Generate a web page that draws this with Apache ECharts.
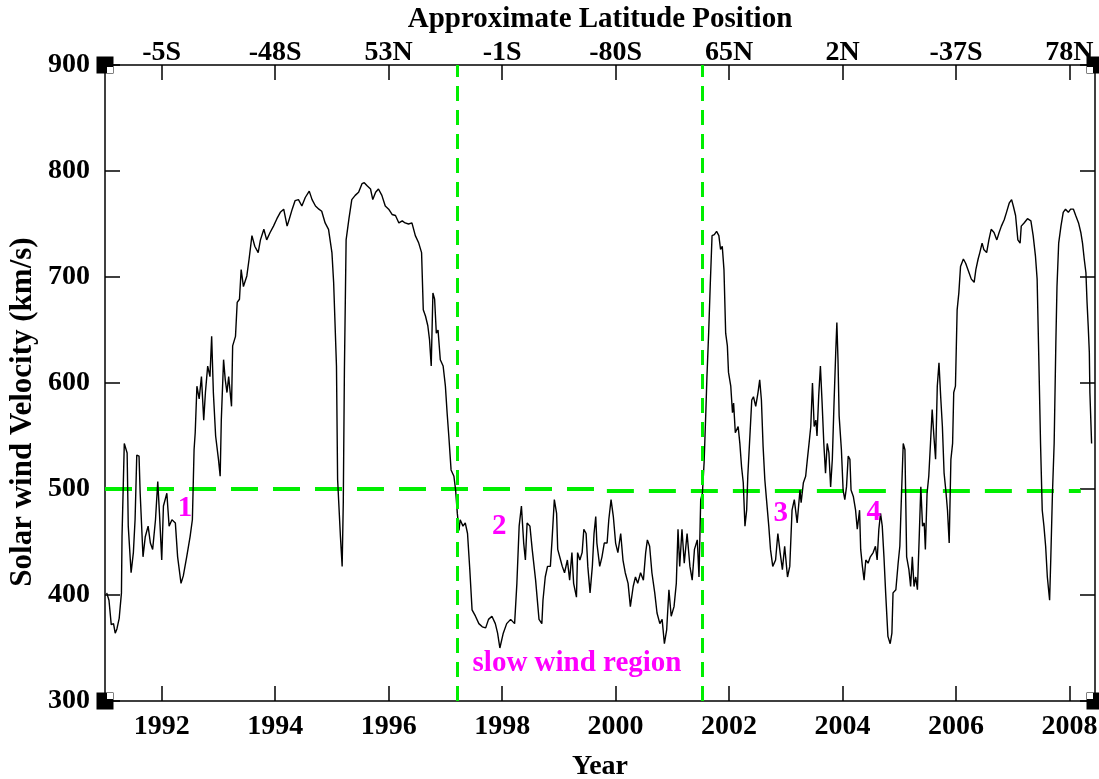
<!DOCTYPE html>
<html><head><meta charset="utf-8">
<script src="https://cdn.jsdelivr.net/npm/echarts@6/dist/echarts.min.js"></script>
<style>html,body{margin:0;padding:0;background:#fff;} #c{width:1099px;height:779px;}</style>
</head><body><div id="c"></div>
<script>
// Solar wind velocity (km/s) vs year
const windA = [[1991.03,402],[1991.07,395],[1991.11,372],[1991.15,373],[1991.18,364],[1991.21,368],[1991.25,378],[1991.29,402],[1991.30,455],[1991.34,543],[1991.39,534],[1991.41,465],[1991.46,421],[1991.50,440],[1991.53,471],[1991.56,532],[1991.60,531],[1991.62,496],[1991.67,436],[1991.71,455],[1991.76,465],[1991.80,449],[1991.84,443],[1991.89,471],[1991.93,507],[1991.96,477],[1992.00,433],[1992.03,484],[1992.09,496],[1992.13,465],[1992.18,471],[1992.24,468],[1992.28,436],[1992.34,411],[1992.38,418],[1992.44,436],[1992.50,455],[1992.54,471],[1992.57,537],[1992.59,553],[1992.62,597],[1992.66,585],[1992.70,606],[1992.74,565],[1992.77,591],[1992.81,616],[1992.85,606],[1992.88,644],[1992.91,591],[1992.95,550],[1993.00,528],[1993.03,512],[1993.05,565],[1993.09,622],[1993.12,603],[1993.15,591],[1993.18,606],[1993.23,578],[1993.25,635],[1993.30,644],[1993.33,676],[1993.37,679],[1993.40,707],[1993.44,691],[1993.50,701],[1993.54,717],[1993.59,739],[1993.64,729],[1993.70,723],[1993.74,735],[1993.80,745],[1993.85,735],[1993.91,742],[1993.97,748],[1994.03,755],[1994.09,761],[1994.15,764],[1994.21,748],[1994.25,755],[1994.30,764],[1994.35,772],[1994.41,773],[1994.47,767],[1994.53,775],[1994.60,781],[1994.65,773],[1994.71,767],[1994.77,764],[1994.82,762],[1994.88,751],[1994.94,745],[1995.00,723],[1995.03,695]];
const windB = [[1995.08,616],[1995.10,509],[1995.15,455],[1995.18,427],[1995.20,487],[1995.22,613],[1995.25,735],[1995.30,755],[1995.35,773],[1995.41,777],[1995.47,780],[1995.53,788],[1995.57,789],[1995.62,786],[1995.68,783],[1995.72,773],[1995.77,780],[1995.82,783],[1995.88,777],[1995.94,767],[1996.00,764],[1996.06,759],[1996.12,758],[1996.18,751],[1996.24,753],[1996.29,751],[1996.35,750],[1996.41,751],[1996.47,739],[1996.53,732],[1996.58,723],[1996.61,669],[1996.65,663],[1996.69,654],[1996.72,641],[1996.75,616],[1996.78,685],[1996.81,679],[1996.84,647],[1996.87,650],[1996.91,622],[1996.96,616],[1997.00,597],[1997.03,572],[1997.06,550],[1997.10,518],[1997.15,512],[1997.18,499],[1997.21,477],[1997.24,461],[1997.26,471],[1997.31,465],[1997.35,468],[1997.39,458],[1997.43,424],[1997.47,386],[1997.53,380],[1997.59,373],[1997.65,370],[1997.71,369],[1997.76,377],[1997.82,380],[1997.88,373],[1997.92,364],[1997.96,350],[1998.02,364],[1998.08,373],[1998.15,377],[1998.22,373],[1998.26,411],[1998.30,465],[1998.34,484],[1998.38,449],[1998.41,433],[1998.44,468],[1998.49,465],[1998.53,443],[1998.59,414],[1998.65,377],[1998.70,373]];
const windC = [[1998.72,395],[1998.76,417],[1998.80,427],[1998.85,427],[1998.88,452],[1998.92,490],[1998.96,477],[1998.98,443],[1999.03,433],[1999.06,427],[1999.10,421],[1999.15,433],[1999.19,414],[1999.23,440],[1999.26,411],[1999.31,398],[1999.33,440],[1999.37,433],[1999.41,440],[1999.44,462],[1999.48,458],[1999.51,427],[1999.55,402],[1999.59,427],[1999.62,458],[1999.65,474],[1999.67,449],[1999.72,427],[1999.76,436],[1999.80,449],[1999.85,449],[1999.88,471],[1999.92,490],[1999.96,474],[2000.00,449],[2000.04,440],[2000.09,458],[2000.13,433],[2000.17,421],[2000.22,411],[2000.26,389],[2000.31,408],[2000.35,417],[2000.39,411],[2000.44,421],[2000.49,414],[2000.53,440],[2000.56,452],[2000.60,446],[2000.64,421],[2000.69,402],[2000.73,383],[2000.78,373],[2000.82,377],[2000.86,354],[2000.90,367],[2000.94,405],[2000.98,380],[2001.03,389],[2001.07,411],[2001.10,462],[2001.13,427],[2001.17,462],[2001.21,430],[2001.26,458],[2001.31,427],[2001.35,414],[2001.39,443],[2001.44,452],[2001.47,417],[2001.50,490],[2001.53,496],[2001.56,525],[2001.59,572],[2001.61,606],[2001.64,647],[2001.67,695],[2001.70,739],[2001.74,740],[2001.78,743],[2001.82,739],[2001.85,726],[2001.88,729],[2001.91,707],[2001.94,647],[2001.97,635],[2001.99,610],[2002.03,597],[2002.06,572],[2002.08,581],[2002.11,553],[2002.16,559],[2002.19,543],[2002.22,521],[2002.25,506],[2002.28,465],[2002.31,480],[2002.33,512],[2002.37,553],[2002.40,584],[2002.43,587],[2002.47,578],[2002.51,591],[2002.54,603],[2002.57,584],[2002.60,540],[2002.63,509],[2002.66,490],[2002.70,465],[2002.73,443],[2002.77,427],[2002.82,433],[2002.86,458],[2002.90,440],[2002.94,424],[2002.98,446],[2003.03,417],[2003.07,427]];
const windD = [[2003.11,480],[2003.15,490],[2003.20,468],[2003.25,499],[2003.27,487],[2003.31,506],[2003.35,512],[2003.38,528],[2003.41,543],[2003.44,559],[2003.47,600],[2003.50,559],[2003.53,565],[2003.55,550],[2003.58,588],[2003.61,616],[2003.64,581],[2003.67,543],[2003.70,515],[2003.73,543],[2003.76,534],[2003.79,502],[2003.82,528],[2003.85,581],[2003.88,629],[2003.90,657],[2003.92,622],[2003.94,569],[2003.98,537],[2004.01,499],[2004.04,490],[2004.07,502],[2004.10,531],[2004.13,528],[2004.15,499],[2004.19,493],[2004.23,480],[2004.26,462],[2004.30,480],[2004.32,443],[2004.35,427],[2004.38,414],[2004.41,433],[2004.45,430],[2004.49,436],[2004.54,440],[2004.58,446],[2004.61,433],[2004.64,462],[2004.67,477],[2004.70,465],[2004.73,436],[2004.76,402],[2004.80,361],[2004.84,354],[2004.87,364],[2004.89,402],[2004.94,405],[2004.98,430],[2005.01,446],[2005.04,496],[2005.07,543],[2005.10,537],[2005.13,436],[2005.17,424],[2005.20,408],[2005.23,436],[2005.26,408],[2005.29,417],[2005.32,405],[2005.35,452],[2005.38,502],[2005.41,465],[2005.44,468],[2005.46,443],[2005.49,496],[2005.52,512],[2005.55,543],[2005.58,575],[2005.61,550],[2005.64,528],[2005.67,597],[2005.70,619],[2005.73,587],[2005.76,559],[2005.79,515],[2005.82,499],[2005.85,480],[2005.88,449],[2005.91,528],[2005.94,543],[2005.96,591],[2005.99,597],[2006.02,669],[2006.05,685],[2006.08,710],[2006.13,717],[2006.17,713],[2006.20,713],[2006.23,704],[2006.27,698],[2006.32,695],[2006.35,707],[2006.39,717],[2006.42,723],[2006.46,732],[2006.49,726],[2006.54,723],[2006.58,735],[2006.62,745],[2006.67,742],[2006.72,735],[2006.76,742],[2006.80,748],[2006.85,754],[2006.89,761],[2006.94,770],[2006.98,773],[2007.01,767],[2007.05,758],[2007.09,735],[2007.13,732],[2007.15,748],[2007.20,751],[2007.26,755],[2007.32,753],[2007.36,739],[2007.40,720],[2007.43,698],[2007.46,622],[2007.49,543],[2007.52,480],[2007.55,465],[2007.58,446],[2007.61,417],[2007.65,395],[2007.67,433],[2007.70,496],[2007.73,543],[2007.76,638],[2007.78,691],[2007.81,732],[2007.85,748],[2007.89,761],[2007.93,764],[2007.98,761],[2008.02,764],[2008.07,764],[2008.11,758],[2008.16,751],[2008.20,742],[2008.23,732],[2008.26,717],[2008.29,704],[2008.31,676],[2008.33,654],[2008.35,629],[2008.36,591],[2008.39,543]];

const yearTicks = [1992, 1994, 1996, 1998, 2000, 2002, 2004, 2006, 2008];
const latLabels = ['-5S', '-48S', '53N', '-1S', '-80S', '65N', '2N', '-37S', '78N'];
const boundaryYears = [1997.21, 2001.52];
const refLine = [[1991.0, 500], [1999.75, 500], [1999.75, 498], [2008.2, 498]];
const regionNotes = [[1992.41, 482, '1'], [1997.95, 465, '2'], [2002.91, 477, '3'], [2004.55, 478, '4'], [1999.32, 335, 'slow wind region']];

const X_MIN = 1991.0, X_MAX = 2008.45, Y_MIN = 300, Y_MAX = 900;
const FONT = 'Liberation Serif';
const GREEN = '#00ee00';
const MAGENTA = '#ff00ff';

const wind = windA.concat(windB, windC, windD);

const axisLine = { show: true, onZero: false, lineStyle: { color: '#000', width: 1.5 } };
const tickStyle = { show: true, inside: true, length: 15, lineStyle: { color: '#000', width: 1.5 } };
const labelFont = { color: '#000', fontFamily: FONT, fontWeight: 'bold', fontSize: 28 };

const chart = echarts.init(document.getElementById('c'), null, { renderer: 'canvas' });
chart.setOption({
  animation: false,
  backgroundColor: '#fff',
  grid: { left: 105, right: 4, top: 65, bottom: 78, containLabel: false, outerBoundsMode: 'none' },
  xAxis: [
    {
      type: 'value', position: 'bottom', min: X_MIN, max: X_MAX,
      axisLine: axisLine,
      axisTick: Object.assign({}, tickStyle, { customValues: yearTicks }),
      axisLabel: Object.assign({}, labelFont, { customValues: yearTicks, margin: 12, formatter: v => String(Math.round(v)) }),
      splitLine: { show: false },
      name: 'Year', nameLocation: 'middle', nameGap: 52,
      nameTextStyle: labelFont
    },
    {
      type: 'value', position: 'top', min: X_MIN, max: X_MAX,
      axisLine: axisLine,
      axisTick: Object.assign({}, tickStyle, { customValues: yearTicks }),
      axisLabel: Object.assign({}, labelFont, {
        customValues: yearTicks, margin: -2,
        formatter: v => { const i = yearTicks.indexOf(Math.round(v)); return i >= 0 ? latLabels[i] : ''; }
      }),
      splitLine: { show: false },
      name: 'Approximate Latitude Position', nameLocation: 'middle', nameGap: 29,
      nameTextStyle: Object.assign({}, labelFont, { fontSize: 29 })
    }
  ],
  yAxis: [
    {
      type: 'value', position: 'left', min: Y_MIN, max: Y_MAX, interval: 100,
      axisLine: axisLine, axisTick: tickStyle,
      axisLabel: Object.assign({}, labelFont, { margin: 15 }),
      splitLine: { show: false }
    },
    {
      type: 'value', position: 'right', min: Y_MIN, max: Y_MAX, interval: 100,
      axisLine: axisLine, axisTick: tickStyle,
      axisLabel: { show: false }, splitLine: { show: false }
    }
  ],
  graphic: [{
    type: 'text', x: 23, y: 412, rotation: Math.PI / 2,
    style: {
      text: 'Solar wind Velocity (km/s)', fill: '#000',
      font: 'bold 31px "Liberation Serif"', textAlign: 'center', textVerticalAlign: 'middle'
    }
  }],
  series: [
    {
      type: 'line', name: 'ref', data: refLine, symbol: 'none', silent: true, z: 2,
      lineStyle: { color: GREEN, width: 4, type: [27, 15] }
    },
    {
      type: 'line', name: 'wind', data: wind, symbol: 'none', z: 3,
      lineStyle: { color: '#000', width: 1.4 },
      markLine: {
        silent: true, symbol: 'none', label: { show: false },
        lineStyle: { color: GREEN, width: 3, type: [15, 9] },
        data: boundaryYears.map(v => ({ xAxis: v }))
      }
    },
    {
      type: 'scatter', name: 'notes', silent: true, z: 5,
      data: regionNotes, symbol: 'circle', symbolSize: 1,
      itemStyle: { color: 'rgba(0,0,0,0)', opacity: 1 },
      label: {
        show: true, position: 'inside', formatter: p => p.data[2],
        color: MAGENTA, fontFamily: FONT, fontWeight: 'bold', fontSize: 29
      }
    },
    {
      type: 'scatter', name: 'corners', silent: true, clip: false, z: 6,
      symbol: 'rect', symbolSize: 17, itemStyle: { color: '#000', opacity: 1 },
      data: [[X_MIN, Y_MIN], [X_MIN, Y_MAX], [X_MAX, Y_MIN], [X_MAX, Y_MAX]]
    },
    {
      type: 'scatter', name: 'cornerNotch', silent: true, clip: false, z: 7,
      symbol: 'rect', symbolSize: 6, itemStyle: { color: '#fff', opacity: 1 },
      data: [
        { value: [X_MIN, Y_MIN], symbolOffset: [5, -5] },
        { value: [X_MIN, Y_MAX], symbolOffset: [5, 5] },
        { value: [X_MAX, Y_MIN], symbolOffset: [-5, -5] },
        { value: [X_MAX, Y_MAX], symbolOffset: [-5, 5] }
      ]
    }
  ]
});
</script>
</body></html>
